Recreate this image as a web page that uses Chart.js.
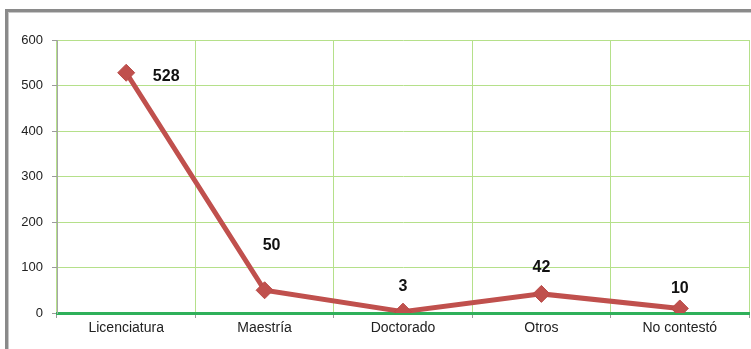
<!DOCTYPE html>
<html>
<head>
<meta charset="utf-8">
<script src="https://cdn.jsdelivr.net/npm/chart.js@4/dist/chart.umd.min.js"></script>
<style>
  html, body { margin: 0; padding: 0; background: #ffffff; }
  #wrap { position: relative; width: 751px; height: 349px; }
  canvas { display: block; }
</style>
</head>
<body>
<div id="wrap"><canvas id="c" width="751" height="349"></canvas></div>
<script>
// Nivel de estudios de los participantes
const categories = ['Licenciatura', 'Maestría', 'Doctorado', 'Otros', 'No contestó'];
const values = [528, 50, 3, 42, 10];
const yTicks = [0, 100, 200, 300, 400, 500, 600];

// label offsets (dx, dy) relative to each point, in pixels
const labelOffsets = [[40, 4], [7, -45], [0, -25], [0, -26], [0, -20]];

const framePlugin = {
  id: 'frame',
  beforeDraw(chart) {
    const ctx = chart.ctx;
    ctx.save();
    ctx.fillStyle = '#8a8a8a';
    ctx.fillRect(5, 9, 746, 3);
    ctx.fillRect(5, 9, 3, 340);
    ctx.fillStyle = '#c8c8c8';
    ctx.fillRect(8, 12, 743, 1);
    ctx.fillRect(8, 12, 1, 337);
    ctx.restore();
  }
};

const valueLabels = {
  id: 'valueLabels',
  afterDatasetsDraw(chart) {
    const ctx = chart.ctx;
    const meta = chart.getDatasetMeta(0);
    ctx.save();
    ctx.font = 'bold 16px "Liberation Sans", Arial, sans-serif';
    ctx.fillStyle = '#111111';
    ctx.textAlign = 'center';
    ctx.textBaseline = 'middle';
    meta.data.forEach((pt, i) => {
      const [dx, dy] = labelOffsets[i];
      ctx.fillText(String(values[i]), pt.x + dx, pt.y + dy);
    });
    ctx.restore();
  }
};

new Chart(document.getElementById('c'), {
  type: 'line',
  data: {
    labels: categories,
    datasets: [{
      data: values,
      borderColor: '#c0504d',
      backgroundColor: '#c0504d',
      borderWidth: 5,
      pointStyle: 'rectRot',
      pointRadius: 8.5,
      pointBorderWidth: 1,
      pointBorderColor: '#b84a47',
      tension: 0,
      fill: false
    }]
  },
  options: {
    responsive: false,
    animation: false,
    layout: { autoPadding: false, padding: { top: 40, right: 2, left: 0, bottom: 0 } },
    plugins: { legend: { display: false }, tooltip: { enabled: false } },
    scales: {
      x: {
        offset: true,
        afterFit(scale) {
          scale.height = 36;
          scale.paddingLeft = 0;
          scale.paddingRight = 0;
        },
        grid: {
          offset: true,
          color: '#b5e08a',
          lineWidth: 1,
          tickColor: '#9a9a9a',
          tickLength: 5
        },
        border: { color: '#2fb05a', width: 3 },
        ticks: {
          color: '#222222',
          padding: 2,
          font: { family: '"Liberation Sans", Arial, sans-serif', size: 14 }
        }
      },
      y: {
        min: 0,
        max: 600,
        afterFit(scale) { scale.width = 57; },
        afterBuildTicks(scale) { scale.ticks = yTicks.map(v => ({ value: v })); },
        grid: {
          color: '#b5e08a',
          lineWidth: 1,
          tickColor: '#9a9a9a',
          tickLength: 5
        },
        border: { color: '#a6a6a6', width: 1 },
        ticks: {
          color: '#222222',
          padding: 9,
          font: { family: '"Liberation Sans", Arial, sans-serif', size: 13 }
        }
      }
    }
  },
  plugins: [framePlugin, valueLabels]
});
</script>
</body>
</html>
